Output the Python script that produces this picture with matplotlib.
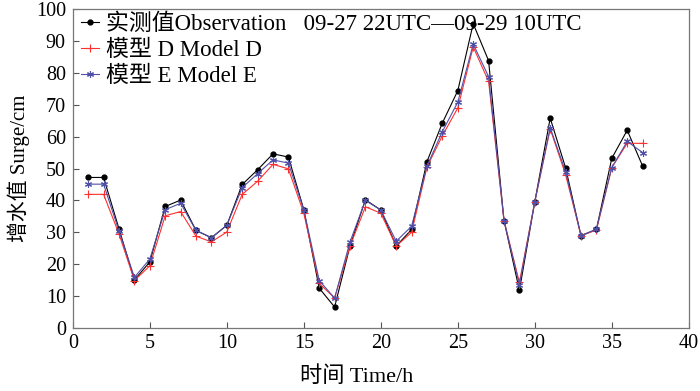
import matplotlib
matplotlib.use("Agg")
import matplotlib.pyplot as plt

plt.rcParams['font.family'] = ['Liberation Serif', 'Noto Sans CJK SC']

# data
hours = list(range(1, 38))
obs = [47.2, 47.2, 31.1, 15.1, 20.7, 38.1, 40.1, 30.6, 28.3, 32.2,
       45.0, 49.6, 54.6, 53.6, 37.1, 12.5, 6.6, 25.7, 40.2, 37.0,
       25.7, 30.9, 52.2, 64.3, 74.4, 95.4, 83.8, 33.7, 11.8, 39.6,
       65.8, 50.2, 28.9, 30.9, 53.2, 62.0, 50.8]
model_d = [41.9, 41.9, 29.5, 14.9, 19.5, 35.2, 36.5, 28.8, 27.0, 30.1,
           41.9, 46.0, 51.3, 49.9, 36.0, 14.0, 9.4, 25.7, 38.0, 36.0,
           25.7, 30.0, 50.5, 60.3, 69.0, 88.1, 77.3, 33.7, 14.3, 39.6,
           62.4, 48.1, 29.0, 30.7, 50.3, 57.9, 57.9]
model_e = [45.1, 45.1, 30.4, 15.9, 21.6, 37.1, 39.1, 30.6, 28.3, 32.2,
           44.0, 48.4, 52.7, 51.7, 37.1, 14.9, 9.4, 27.0, 40.0, 37.0,
           27.2, 31.9, 50.8, 61.6, 70.8, 89.0, 78.8, 33.7, 13.5, 39.6,
           62.8, 49.0, 29.0, 31.0, 50.3, 58.5, 55.0]

labels = ['实测值Observation   09-27 22UTC—09-29 10UTC',
          '模型 D Model D',
          '模型 E Model E']

fig = plt.figure(figsize=(7, 3.91), dpi=100)
ax = fig.add_axes([0.104, 0.161, 0.880, 0.816])

ax.plot(hours, obs, color='black', lw=0.8, marker='o', ms=3.5, label=labels[0])
ax.plot(hours, model_d, color='#ff3030', lw=0.8, marker='+', ms=6, mew=0.8, label=labels[1])
ax.plot(hours, model_e, color='#5050a8', lw=0.8, marker=(6, 2, 0), ms=5, mew=0.8, label=labels[2])

ax.set_xlim(0, 40)
ax.set_ylim(0, 100)
ax.set_xticks(range(0, 41, 5))
ax.set_yticks(range(0, 101, 10))
ax.tick_params(direction='in', length=4, labelsize=14.5, color='#555555', pad=4)
ax.tick_params(axis='y', pad=5)
for s in ax.spines.values():
    s.set_color('#777777')
    s.set_linewidth(0.9)

ax.set_xlabel('时间 Time/h', fontsize=16)
ax.xaxis.set_label_coords(0.46, -0.12)
ax.set_ylabel('增水值 Surge/cm', fontsize=15, labelpad=4)

ax.legend(loc='upper left', frameon=False, fontsize=16.5, handlelength=0.8,
          handletextpad=0.3, labelspacing=0.22, borderaxespad=0.1,
          bbox_to_anchor=(-0.006, 1.022))

fig.savefig('out.png', dpi=100)
